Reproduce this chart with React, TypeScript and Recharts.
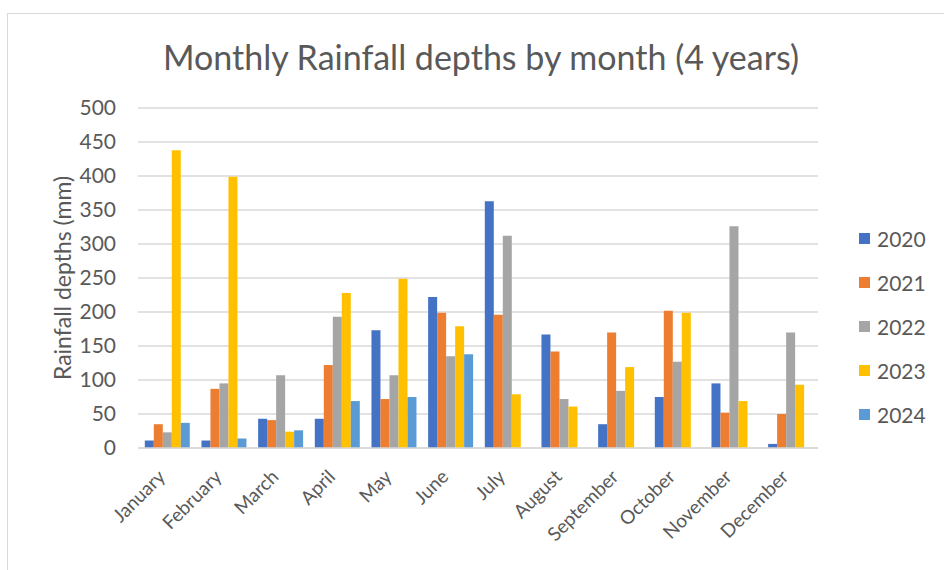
import React from 'react';
import { BarChart, Bar, XAxis, YAxis, CartesianGrid } from 'recharts';

const months = ['January', 'February', 'March', 'April', 'May', 'June', 'July', 'August', 'September', 'October', 'November', 'December'];
const y2020 = [11, 11, 43, 43, 173, 222, 363, 167, 35, 75, 95, 6];
const y2021 = [35, 87, 41, 122, 72, 199, 196, 142, 170, 202, 52, 50];
const y2022 = [23, 95, 107, 193, 107, 135, 312, 72, 84, 127, 326, 170];
const y2023 = [438, 399, 24, 228, 249, 179, 79, 61, 119, 199, 69, 93];
const y2024 = [37, 14, 26, 69, 75, 138, null, null, null, null, null, null];
const yTicks = [0, 50, 100, 150, 200, 250, 300, 350, 400, 450, 500];

const series = [
  { key: '2020', color: '#4472C4' },
  { key: '2021', color: '#ED7D31' },
  { key: '2022', color: '#A5A5A5' },
  { key: '2023', color: '#FFC000' },
  { key: '2024', color: '#5B9BD5' },
];

const data = months.map((m, i) => ({
  month: m,
  '2020': y2020[i],
  '2021': y2021[i],
  '2022': y2022[i],
  '2023': y2023[i],
  '2024': y2024[i],
}));

const FONT = 'Lato, "Open Sans", sans-serif';
const GREY = '#595959';

function LegendBox() {
  return (
    <div style={{ position: 'absolute', left: 859, top: 216 }}>
      {series.map((s) => (
        <div key={s.key} style={{ display: 'flex', alignItems: 'center', height: 44, fontSize: 21, color: GREY, fontFamily: FONT }}>
          <span style={{ width: 11, height: 11, background: s.color, marginRight: 7, display: 'inline-block' }} />
          {s.key}
        </div>
      ))}
    </div>
  );
}

function MonthTick(props: any) {
  const { x, y, payload } = props;
  return (
    <g transform={`translate(${x},${y + 22})`}>
      <text transform="rotate(-45)" textAnchor="end" fill={GREY} fontSize={19} fontFamily={FONT}>
        {payload.value}
      </text>
    </g>
  );
}

function YLabel(props: any) {
  const { viewBox } = props;
  const cy = viewBox.y + viewBox.height / 2;
  return (
    <text x={62} y={cy} transform={`rotate(-90, 62, ${cy})`} textAnchor="middle" dominantBaseline="central" fill={GREY} fontSize={23} fontFamily={FONT}>
      Rainfall depths (mm)
    </text>
  );
}

export default function App() {
  return (
    <div style={{ position: 'absolute', left: 0, top: 0, width: 944, height: 570, background: '#fff', overflow: 'hidden' }}>
      <div style={{ position: 'absolute', left: 7, top: 13, width: 960, height: 560, border: '1px solid #d9d9d9' }} />
      <div style={{ position: 'absolute', left: 0, top: 36, width: 962, textAlign: 'center', fontFamily: FONT, fontSize: 34, color: GREY, lineHeight: '42px' }}>
        Monthly Rainfall depths by month (4 years)
      </div>
      <div style={{ position: 'absolute', left: 0, top: 0 }}>
        <BarChart width={944} height={570} data={data} margin={{ top: 108, right: 126, bottom: 8, left: 40 }} barCategoryGap="12%" barGap={0}>
          <CartesianGrid vertical={false} stroke="#d9d9d9" strokeWidth={1.5} />
          <XAxis dataKey="month" tick={<MonthTick />} tickLine={false} axisLine={{ stroke: '#d9d9d9', strokeWidth: 1.5 }} height={114} interval={0} />
          <YAxis
            domain={[0, 500]}
            ticks={yTicks}
            tickLine={false}
            axisLine={false}
            width={98}
            tickMargin={16}
            tick={{ fill: GREY, fontSize: 21, fontFamily: FONT }}
            label={<YLabel />}
          />
          {series.map((s) => (
            <Bar key={s.key} dataKey={s.key} fill={s.color} isAnimationActive={false} />
          ))}
        </BarChart>
      </div>
      <LegendBox />
    </div>
  );
}
